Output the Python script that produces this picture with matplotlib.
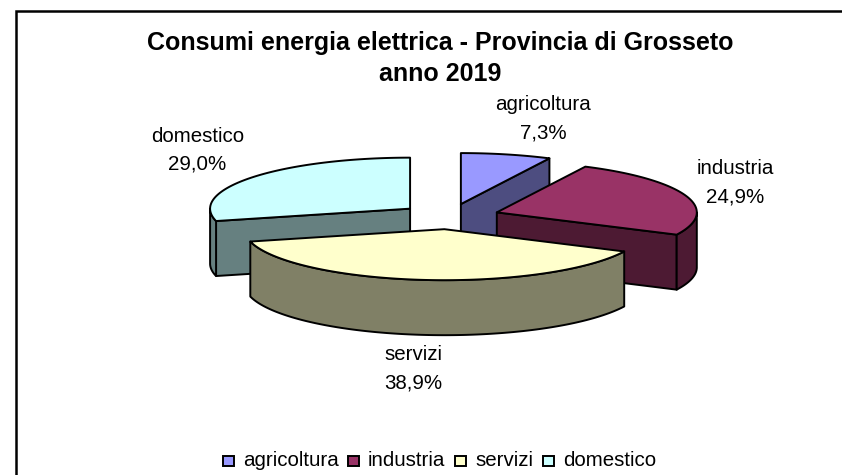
import numpy as np
import matplotlib
matplotlib.use("Agg")
import matplotlib.pyplot as plt
from matplotlib.patches import Polygon, Rectangle

plt.rcParams['font.family'] = ['Liberation Sans', 'DejaVu Sans']

categories = ['agricoltura', 'industria', 'servizi', 'domestico']
values = [7.3, 24.9, 38.9, 28.9]
percent_labels = ['7,3%', '24,9%', '38,9%', '29,0%']
top_colors = ['#9999FF', '#993366', '#FFFFCC', '#CCFFFF']
side_colors = ['#4D4D80', '#4D1A33', '#808066', '#668080']

# pie geometry in pixels
CX, CY = 449.5, 216.5
RX, RY = 200, 51
DEPTH = 55
EXPLODE = 0.25
EDGE = 1.4

# back to front
draw_order = [0, 3, 1, 2]
label_pos = [(543, 119), (735, 183), (413, 369), (197.5, 150)]


def rim(a0, a1, cx, cy):
    t = np.radians(np.linspace(a0, a1, max(int(abs(a1 - a0)) + 2, 2)))
    return np.column_stack([cx + RX * np.sin(t), cy - RY * np.cos(t)])


def draw_slice(ax, a0, a1, top, side):
    mid = np.radians((a0 + a1) / 2)
    cx = CX + EXPLODE * RX * np.sin(mid)
    cy = CY - EXPLODE * RY * np.cos(mid)
    apex = np.array([[cx, cy]])
    down = np.array([0, DEPTH])
    style = dict(edgecolor='black', linewidth=EDGE, joinstyle='round')

    # cut faces that look at the viewer
    if np.sin(np.radians(a1)) > 0:
        p = rim(a1, a1, cx, cy)[:1]
        ax.add_patch(Polygon(np.vstack([apex, p, p + down, apex + down]),
                             facecolor=side, **style))
    if np.sin(np.radians(a0)) < 0:
        p = rim(a0, a0, cx, cy)[:1]
        ax.add_patch(Polygon(np.vstack([apex, p, p + down, apex + down]),
                             facecolor=side, **style))

    # outer wall, only the front half of the ellipse shows
    w0, w1 = max(a0, 90), min(a1, 270)
    if w1 > w0:
        arc = rim(w0, w1, cx, cy)
        ax.add_patch(Polygon(np.vstack([arc, (arc + down)[::-1]]),
                             facecolor=side, **style))

    ax.add_patch(Polygon(np.vstack([apex, rim(a0, a1, cx, cy)]),
                         facecolor=top, **style))


fig = plt.figure(figsize=(8.42, 4.75), dpi=100)
ax = fig.add_axes([0, 0, 1, 1])
ax.set_xlim(0, 842)
ax.set_ylim(475, 0)
ax.axis('off')

# chart frame runs off the right and bottom of the picture
ax.add_patch(Rectangle((15.5, 10.5), 900, 500, facecolor='white',
                       edgecolor='black', linewidth=1.8))

ax.text(440, 58.5, 'Consumi energia elettrica - Provincia di Grosseto\nanno 2019',
        ha='center', va='center', fontsize=18, fontweight='bold', linespacing=1.4)

edges = np.cumsum([0] + values) / sum(values) * 360
for i in draw_order:
    draw_slice(ax, edges[i], edges[i + 1], top_colors[i], side_colors[i])

for name, pct, (x, y) in zip(categories, percent_labels, label_pos):
    ax.text(x, y, name + '\n' + pct, ha='center', va='center',
            fontsize=14.8, linespacing=1.6)

# legend
leg_x = [223, 348, 455, 543]
for name, color, x in zip(categories, top_colors, leg_x):
    ax.add_patch(Rectangle((x, 455.5), 10.5, 10.5, facecolor=color,
                           edgecolor='black', linewidth=1.4))
    ax.text(x + 20, 461, name, ha='left', va='center', fontsize=14.8)

fig.savefig('out.png', dpi=100)
